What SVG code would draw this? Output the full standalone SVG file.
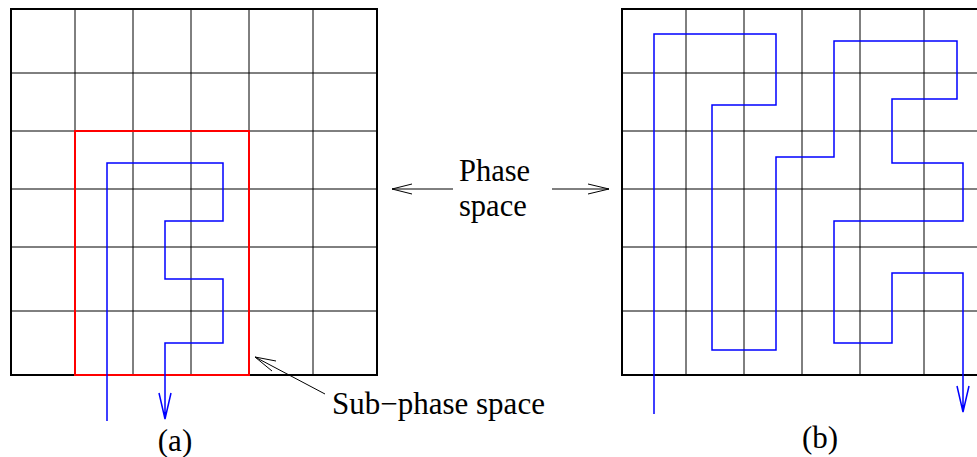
<svg xmlns="http://www.w3.org/2000/svg" width="977" height="457" viewBox="0 0 977 457">
<style>
.grid{stroke:#000;stroke-width:1;fill:none}
.border{stroke:#000;stroke-width:2;fill:none}
.path{stroke:#0000ff;stroke-width:1.5;fill:none}
.arr{stroke:#000;stroke-width:1;fill:none}
.sub{stroke:#ff0000;stroke-width:2;fill:none}
text{font-family:"Liberation Serif","Times New Roman",serif;font-size:31px;fill:#000}
.ps{font-size:30.5px}
</style>
<rect width="977" height="457" fill="#fff"/>
<g id="grid-a">
<path class="grid" d="M75 9V375M133 9V375M191 9V375M249 9V375M313 9V375M11 73H377M11 131H377M11 189H377M11 247H377M11 311H377"/>
<rect class="border" x="11" y="9" width="366" height="366"/>
</g>
<g id="grid-b">
<path class="grid" d="M686 9V375M744 9V375M802 9V375M860 9V375M924 9V375M622 73H988M622 131H988M622 189H988M622 247H988M622 311H988"/>
<rect class="border" x="622" y="9" width="366" height="366"/>
</g>
<g id="sub-phase-box">
<rect class="sub" x="75" y="131" width="174" height="244"/>
</g>
<g id="connectors">
<path id="walk-a" class="path" d="M107 421V163H223V221H165V279H223V343H165V419M159 393L165 419L171 393"/>
<path id="walk-b" class="path" d="M654 414V34H776V105H712V350H776V157H834V41H957V99H892V163H963V221H834V343H892V273H963V412M957 386L963 412L969 386"/>
<path id="arrow-left" class="arr" d="M453 189H392M412 184L392 189L412 194"/>
<path id="arrow-right" class="arr" d="M552 189H609M588 184L609 189L588 194"/>
<path id="arrow-sub" class="arr" d="M325 394L255 357M276 361L255 357L272 371"/>
</g>
<g id="labels">
<text class="ps" x="459" y="181">Phase</text>
<text class="ps" x="459" y="215.5">space</text>
<text x="332" y="414">Sub−phase space</text>
<text x="175" y="451" text-anchor="middle">(a)</text>
<text x="820" y="448" text-anchor="middle">(b)</text>
</g>
</svg>
